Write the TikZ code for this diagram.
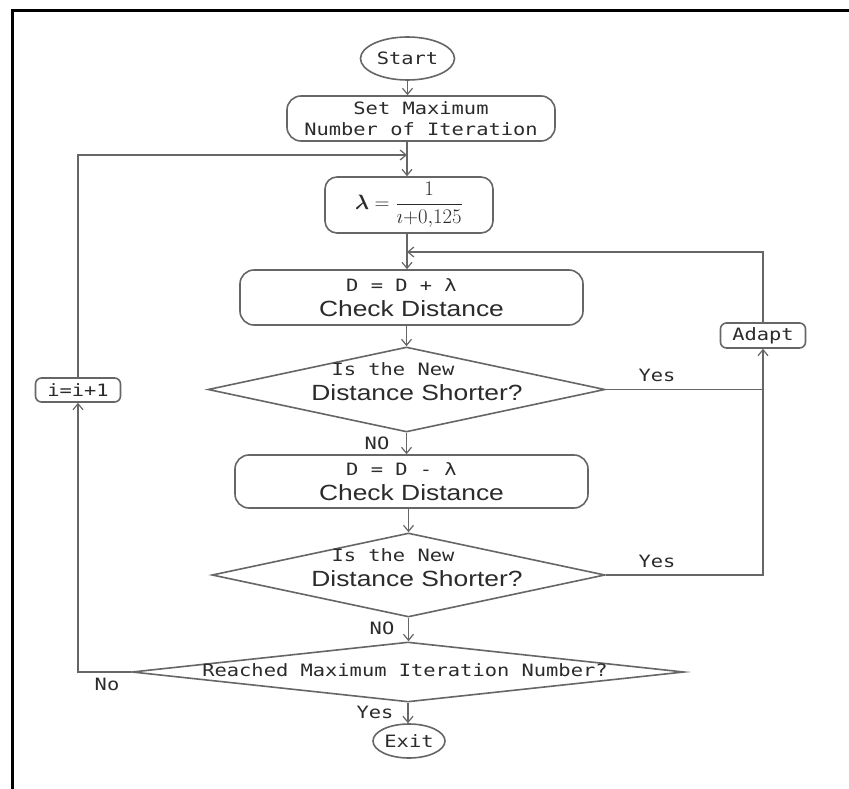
\documentclass[tikz,border=0pt]{standalone}
\usepackage{amsmath}
\usepackage{fontspec}
\setmainfont{Liberation Sans}
\newfontfamily\monof[FakeStretch=1.2]{DejaVu Sans Mono}
\newfontfamily\sansf[FakeStretch=1.2]{Liberation Sans}
\newcommand\monosz{\monof\fontsize{17}{21}\selectfont}
\newcommand\sanssz{\sansf\fontsize{22}{25}\selectfont}
\usetikzlibrary{shapes.geometric,arrows.meta}
\definecolor{linegray}{HTML}{666666}
\definecolor{ink}{HTML}{2B2B2B}

\begin{document}
\begin{tikzpicture}[x=1pt,y=-1pt,
  flow/.style={draw=linegray,line width=1.6pt},
  arr/.style={flow,-{Straight Barb[length=6pt,width=10pt,line width=1.2pt]}},
  box/.style={draw=linegray,line width=1.6pt,rounded corners=14pt,inner sep=0pt,
              align=center,text=ink,font=\sanssz},
  smallbox/.style={box,rounded corners=6pt,font=\monosz},
  oval/.style={draw=linegray,line width=1.6pt,ellipse,inner sep=0pt,text=ink,font=\monosz},
  decision/.style={draw=linegray,line width=1.6pt,diamond,inner sep=0pt},
  lbl/.style={inner sep=0pt,text=ink,font=\monosz},
  dtext/.style={inner sep=0pt,align=center,text=ink,font=\sanssz},
]
\useasboundingbox (0,0) rectangle (849,789);
\fill[white] (0,0) rectangle (849,789);

% page frame (top and left edges)
\draw[line width=3pt,black] (12,789) -- (12,11) -- (849,11);

% main column
\node[oval,minimum width=94pt,minimum height=43pt] (start) at (407.5,58.5) {Start};
\node[box,font=\monosz,minimum width=268pt,minimum height=45pt] (setmax) at (421,118.5)
  {Set Maximum\\Number of Iteration};
\node[box,rounded corners=12pt,minimum width=168pt,minimum height=56pt,font=\fontsize{21}{24}\selectfont] (lam) at (409,205)
  {$\displaystyle\boldsymbol{\lambda} = \frac{1}{\imath{+}0{,}125}$};
\node[box,minimum width=343pt,minimum height=55pt] (dplus) at (411.5,297.5)
  {{\monosz\hspace*{-20pt}D = D + λ}\\Check Distance};
\node[decision,minimum width=397pt,minimum height=85pt] (dia1) at (406.5,389.5) {};
\node[dtext] (dia1t) at (407,382)
  {{\monosz\hspace*{-28pt}Is the New}\\\hspace*{20pt}Distance Shorter?};
\node[box,minimum width=353pt,minimum height=53pt] (dminus) at (411.5,481.5)
  {{\monosz\hspace*{-20pt}D = D - λ}\\Check Distance};
\node[decision,minimum width=393pt,minimum height=84pt] (dia2) at (408.5,575) {};
\node[dtext] (dia2t) at (407,568)
  {{\monosz\hspace*{-28pt}Is the New}\\\hspace*{20pt}Distance Shorter?};
\node[decision,minimum width=552pt,minimum height=60pt] (dia3) at (408,672) {};
\node[lbl] (dia3t) at (405,670) {Reached Maximum Iteration Number?};
\node[oval,minimum width=72pt,minimum height=34pt] (exit) at (409,741) {Exit};

% side boxes
\node[smallbox,minimum width=85pt,minimum height=25pt] (adapt) at (763,335.5) {Adapt};
\node[smallbox,minimum width=85pt,minimum height=24pt] (incr) at (78,390) {i=i+1};

% junctions on the main column
\coordinate (j1) at (407,155);
\coordinate (j2) at (407,252);

% connectors
\draw[arr] (start.south) -- (start.south |- setmax.north);
\draw[flow] (setmax.south -| j1) -- (j1);
\draw[arr] (j1) -- (lam.north -| j1);
\draw[arr] (incr.north) |- (j1);
\draw[flow] (lam.south -| j2) -- (j2);
\draw[arr] (j2) -- (dplus.north -| j2);
\draw[arr] (adapt.north) |- (j2);
\draw[arr] (dplus.south -| dia1.north) -- (dia1.north);
\draw[flow] (dia1.east) -- (dia1.east -| adapt.south);
\draw[arr] (dia2.east) -| (adapt.south);
\draw[arr] (dia1.south) -- (dia1.south |- dminus.north);
\draw[arr] (dminus.south -| dia2.north) -- (dia2.north);
\draw[arr] (dia2.south) -- (dia2.south |- dia3.north);
\draw[arr] (dia3.south) -- (dia3.south |- exit.north);
\draw[arr] (dia3.west) -| (incr.south);

% branch labels
\node[lbl] (yes1) at (657,375) {Yes};
\node[lbl] (yes2) at (657,561) {Yes};
\node[lbl] (no1) at (377,443) {NO};
\node[lbl] (no2) at (382,628) {NO};
\node[lbl] (no3) at (107,684) {No};
\node[lbl] (yes3) at (375,712) {Yes};
\end{tikzpicture}
\end{document}
